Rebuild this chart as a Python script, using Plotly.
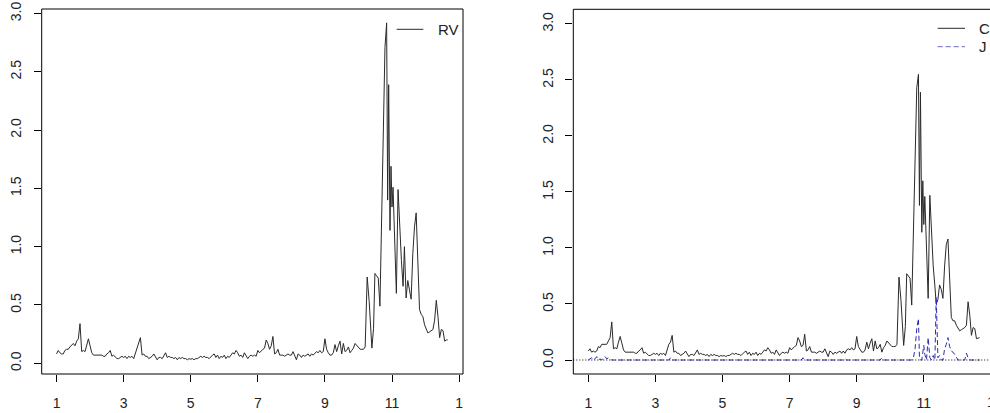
import numpy as np
import plotly.graph_objects as go

# ---------------- data ----------------
# daily index (months 1..12.66); first block evenly spaced, peak block read individually
x_main = np.round(1.0 + 0.05 * np.arange(184), 2).tolist()
x_peak = [10.20, 10.26, 10.32, 10.36, 10.40, 10.45, 10.49, 10.54, 10.59, 10.64,
          10.69, 10.74, 10.79, 10.84, 10.87, 10.90, 10.94, 10.97, 11.00, 11.03,
          11.08, 11.13, 11.18, 11.23, 11.28, 11.33, 11.37, 11.42, 11.47, 11.52,
          11.57, 11.62, 11.67, 11.72, 11.77, 11.82, 11.87, 11.92, 11.97, 12.02,
          12.07, 12.12, 12.17, 12.22, 12.27, 12.32, 12.37, 12.42, 12.47, 12.52,
          12.57, 12.62, 12.66]

rv_main = [0.08, 0.11, 0.09, 0.08, 0.08, 0.11, 0.12, 0.12, 0.14, 0.16,
           0.17, 0.15, 0.19, 0.21, 0.34, 0.10, 0.11, 0.10, 0.16, 0.21,
           0.15, 0.09, 0.07, 0.07, 0.07, 0.07, 0.07, 0.07, 0.06, 0.06,
           0.08, 0.09, 0.11, 0.06, 0.07, 0.05, 0.04, 0.04, 0.05, 0.06,
           0.05, 0.06, 0.04, 0.06, 0.05, 0.06, 0.04, 0.09, 0.14, 0.18,
           0.22, 0.07, 0.08, 0.06, 0.06, 0.04, 0.05, 0.06, 0.08, 0.05,
           0.03, 0.05, 0.05, 0.04, 0.06, 0.09, 0.05, 0.06, 0.05, 0.05,
           0.04, 0.05, 0.03, 0.05, 0.04, 0.05, 0.04, 0.04, 0.03, 0.04,
           0.035, 0.04, 0.03, 0.04, 0.04, 0.05, 0.06, 0.05, 0.06, 0.05,
           0.05, 0.04, 0.06, 0.07, 0.08, 0.05, 0.07, 0.04, 0.06, 0.05,
           0.07, 0.04, 0.06, 0.05, 0.07, 0.09, 0.08, 0.11, 0.09, 0.06,
           0.07, 0.05, 0.09, 0.06, 0.04, 0.06, 0.07, 0.06, 0.07, 0.06,
           0.11, 0.09, 0.11, 0.12, 0.13, 0.20, 0.17, 0.12, 0.15, 0.23,
           0.08, 0.09, 0.12, 0.07, 0.07, 0.07, 0.06, 0.07, 0.08, 0.07,
           0.07, 0.10, 0.06, 0.03, 0.08, 0.07, 0.05, 0.07, 0.06, 0.07,
           0.08, 0.06, 0.08, 0.07, 0.09, 0.10, 0.09, 0.11, 0.09, 0.10,
           0.21, 0.12, 0.09, 0.07, 0.07, 0.09, 0.16, 0.10, 0.15, 0.19,
           0.08, 0.17, 0.10, 0.11, 0.14, 0.09, 0.11, 0.13, 0.17, 0.15,
           0.14, 0.12, 0.12, 0.12]
rv_peak = [0.14, 0.74, 0.53, 0.28, 0.13, 0.30, 0.77, 0.75, 0.73, 0.49,
           1.14, 1.89, 2.71, 2.92, 1.40, 2.39, 1.14, 1.69, 1.34, 1.51,
           0.94, 0.60, 1.49, 1.14, 0.88, 0.66, 1.00, 0.56, 0.71, 0.63,
           0.55, 0.94, 1.17, 1.29, 0.83, 0.46, 0.42, 0.40, 0.33, 0.29,
           0.26, 0.27, 0.28, 0.29, 0.37, 0.54, 0.40, 0.22, 0.29, 0.28,
           0.19, 0.20, 0.20]

c_main = [0.08, 0.10, 0.07, 0.08, 0.07, 0.08, 0.12, 0.11, 0.14, 0.14,
          0.14, 0.14, 0.17, 0.20, 0.34, 0.10, 0.11, 0.10, 0.16, 0.21,
          0.15, 0.09, 0.07, 0.07, 0.07, 0.07, 0.07, 0.07, 0.06, 0.06,
          0.08, 0.09, 0.11, 0.06, 0.07, 0.05, 0.04, 0.04, 0.05, 0.06,
          0.05, 0.06, 0.04, 0.06, 0.05, 0.06, 0.04, 0.09, 0.14, 0.16,
          0.22, 0.07, 0.08, 0.06, 0.06, 0.04, 0.05, 0.06, 0.08, 0.05,
          0.03, 0.05, 0.05, 0.04, 0.06, 0.09, 0.05, 0.06, 0.05, 0.05,
          0.04, 0.05, 0.03, 0.05, 0.04, 0.05, 0.04, 0.04, 0.03, 0.04,
          0.035, 0.04, 0.03, 0.04, 0.04, 0.05, 0.06, 0.05, 0.06, 0.05,
          0.05, 0.04, 0.06, 0.07, 0.08, 0.05, 0.07, 0.04, 0.06, 0.05,
          0.07, 0.04, 0.06, 0.05, 0.07, 0.09, 0.08, 0.11, 0.09, 0.06,
          0.07, 0.05, 0.09, 0.06, 0.04, 0.06, 0.07, 0.06, 0.07, 0.06,
          0.11, 0.09, 0.11, 0.12, 0.13, 0.20, 0.17, 0.12, 0.13, 0.23,
          0.08, 0.09, 0.12, 0.07, 0.07, 0.07, 0.06, 0.07, 0.08, 0.07,
          0.07, 0.10, 0.06, 0.03, 0.08, 0.07, 0.05, 0.07, 0.06, 0.07,
          0.08, 0.06, 0.08, 0.06, 0.09, 0.10, 0.09, 0.11, 0.09, 0.10,
          0.21, 0.12, 0.09, 0.07, 0.07, 0.09, 0.16, 0.10, 0.15, 0.19,
          0.08, 0.17, 0.10, 0.11, 0.14, 0.07, 0.11, 0.13, 0.17, 0.15,
          0.14, 0.12, 0.12, 0.12]
c_peak = [0.14, 0.74, 0.53, 0.28, 0.13, 0.30, 0.77, 0.75, 0.73, 0.49,
          1.12, 1.79, 2.43, 2.55, 1.38, 2.39, 1.14, 1.60, 1.21, 1.46,
          0.94, 0.55, 1.47, 1.14, 0.84, 0.66, 0.50, 0.54, 0.67, 0.63,
          0.55, 0.84, 1.03, 1.08, 0.71, 0.38, 0.35, 0.35, 0.31, 0.29,
          0.26, 0.27, 0.28, 0.29, 0.31, 0.52, 0.40, 0.22, 0.29, 0.28,
          0.19, 0.20, 0.20]

j_main = [0, 0.01, 0.02, 0, 0.01, 0.03, 0, 0.01, 0, 0.02,
          0.03, 0.01, 0.02, 0.01, 0, 0, 0, 0, 0, 0,
          0, 0, 0, 0, 0, 0, 0, 0, 0, 0,
          0, 0, 0, 0, 0, 0, 0, 0, 0, 0,
          0, 0, 0, 0, 0, 0, 0, 0, 0, 0.02,
          0, 0, 0, 0, 0, 0, 0, 0, 0, 0,
          0, 0, 0, 0, 0, 0, 0, 0, 0, 0,
          0, 0, 0, 0, 0, 0, 0, 0, 0, 0,
          0, 0, 0, 0, 0, 0, 0, 0, 0, 0,
          0, 0, 0, 0, 0, 0, 0, 0, 0, 0,
          0, 0, 0, 0, 0, 0, 0, 0, 0, 0,
          0, 0, 0, 0, 0, 0, 0, 0, 0, 0,
          0, 0, 0, 0, 0, 0, 0, 0, 0.02, 0,
          0, 0, 0, 0, 0, 0, 0, 0, 0, 0,
          0, 0, 0, 0, 0, 0, 0, 0, 0, 0,
          0, 0, 0, 0.01, 0, 0, 0, 0, 0, 0,
          0, 0, 0, 0, 0, 0, 0, 0, 0, 0,
          0, 0, 0, 0, 0, 0.02, 0, 0, 0, 0,
          0, 0, 0, 0]
j_peak = [0, 0, 0, 0, 0, 0, 0, 0, 0, 0,
          0.02, 0.10, 0.28, 0.37, 0.02, 0, 0, 0.09, 0.13, 0.05,
          0, 0.20, 0.02, 0, 0.04, 0, 0.56, 0.02, 0.04, 0,
          0, 0.10, 0.14, 0.20, 0.12, 0.08, 0.07, 0.05, 0.02, 0,
          0, 0, 0, 0, 0.06, 0.02, 0, 0, 0, 0,
          0, 0, 0]

x_vals = x_main + x_peak
rv = rv_main + rv_peak
c_series = c_main + c_peak
j_series = j_main + j_peak

x_tickvals = [1, 3, 5, 7, 9, 11, 13]
x_ticktext = ["1", "3", "5", "7", "9", "11", "1"]
y_tickvals = [0, 0.5, 1.0, 1.5, 2.0, 2.5, 3.0]
y_ticktext = ["0.0", "0.5", "1.0", "1.5", "2.0", "2.5", "3.0"]

# ---------------- layout geometry (pixels) ----------------
W, H = 990, 413
def px(x):
    return x / W
def py(y):
    return 1 - y / H

L_BOX = (41.7, 463.0, 9.0, 374.0)     # x0, x1, ytop, ybottom
R_BOX = (573.3, 990.0, 9.3, 374.0)

FONT = dict(family="Liberation Sans, Arial, sans-serif", size=14, color="#222222")
LINE_BLACK = "#2a2a2a"
J_BLUE = "#2a2ab0"

fig = go.Figure()
fig.add_trace(go.Scatter(x=x_vals, y=rv, mode="lines", xaxis="x", yaxis="y",
                         line=dict(color=LINE_BLACK, width=1), name="RV"))
fig.add_trace(go.Scatter(x=x_vals, y=c_series, mode="lines", xaxis="x2", yaxis="y2",
                         line=dict(color=LINE_BLACK, width=1), name="C"))
fig.add_trace(go.Scatter(x=x_vals, y=j_series, mode="lines", xaxis="x2", yaxis="y2",
                         line=dict(color=J_BLUE, width=1, dash="5px,3px"), name="J"))

axis_common = dict(showgrid=False, zeroline=False, showline=False, ticks="outside",
                   ticklen=7, tickwidth=1, tickcolor="#000000", tickfont=FONT,
                   automargin=False)

fig.update_layout(
    width=W, height=H, autosize=False,
    margin=dict(l=0, r=0, t=0, b=0, pad=0),
    paper_bgcolor="white", plot_bgcolor="white",
    showlegend=False,
    xaxis=dict(domain=[px(L_BOX[0]), px(L_BOX[1])], range=[0.558, 13.116],
               tickvals=x_tickvals, ticktext=x_ticktext, anchor="y",
               ticklabelstandoff=9, **axis_common),
    yaxis=dict(domain=[py(L_BOX[3]), py(L_BOX[2])], range=[-0.092, 3.039],
               tickvals=y_tickvals, ticktext=y_ticktext, tickangle=-90, anchor="x",
               ticklabelstandoff=7, **axis_common),
    xaxis2=dict(domain=[px(R_BOX[0]), px(R_BOX[1])], range=[0.553, 12.973],
                tickvals=x_tickvals, ticktext=x_ticktext, anchor="y2",
                ticklabelstandoff=9, **axis_common),
    yaxis2=dict(domain=[py(R_BOX[3]), py(R_BOX[2])], range=[-0.125, 3.131],
                tickvals=y_tickvals, ticktext=y_ticktext, tickangle=-90, anchor="x2",
                ticklabelstandoff=7, **axis_common),
)

shapes = []
# plot boxes
shapes.append(dict(type="rect", xref="paper", yref="paper",
                   x0=px(L_BOX[0]), x1=px(L_BOX[1]), y0=py(L_BOX[3]), y1=py(L_BOX[2]),
                   line=dict(color="#000000", width=1), fillcolor="rgba(0,0,0,0)"))
shapes.append(dict(type="rect", xref="paper", yref="paper",
                   x0=px(R_BOX[0]), x1=1.02, y0=py(R_BOX[3]), y1=py(R_BOX[2]),
                   line=dict(color="#000000", width=1), fillcolor="rgba(0,0,0,0)"))
# dotted zero line in right panel
shapes.append(dict(type="line", xref="x2 domain", yref="y2", x0=0, x1=1, y0=0, y1=0,
                   line=dict(color="#000000", width=1, dash="1px,2px")))
# legend keys
shapes.append(dict(type="line", xref="paper", yref="paper",
                   x0=px(396.7), x1=px(423.3), y0=py(29.3), y1=py(29.3),
                   line=dict(color=LINE_BLACK, width=1)))
shapes.append(dict(type="line", xref="paper", yref="paper",
                   x0=px(937.7), x1=px(965.0), y0=py(28.3), y1=py(28.3),
                   line=dict(color=LINE_BLACK, width=1)))
shapes.append(dict(type="line", xref="paper", yref="paper",
                   x0=px(937.7), x1=px(965.0), y0=py(46.7), y1=py(46.7),
                   line=dict(color="#6a6ac4", width=1, dash="5px,3px")))
fig.update_layout(shapes=shapes)

legend_font = dict(family="Liberation Sans, Arial, sans-serif", size=15, color="#222222")
for txt, xx, yy in [("RV", 435.5, 29.3), ("C", 977.0, 28.3), ("J", 977.0, 46.7)]:
    fig.add_annotation(text=txt, xref="paper", yref="paper", x=px(xx), y=py(yy),
                       xanchor="left", yanchor="middle", showarrow=False,
                       font=legend_font)
# right panel's last tick label, cut by the image edge as in the reference
fig.add_annotation(text="1", xref="paper", yref="paper", x=px(990.9), y=py(401.5),
                   xanchor="center", yanchor="middle", showarrow=False, font=FONT)

fig.write_html("out.html", config={"displayModeBar": False},
               post_script="document.body.style.margin='0px';"
                           "document.body.style.overflow='hidden';")
